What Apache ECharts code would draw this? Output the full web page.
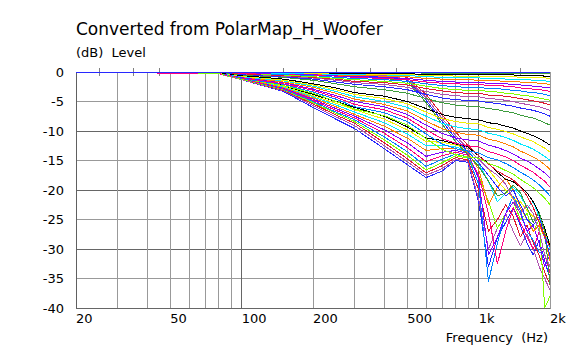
<!DOCTYPE html>
<html>
<head>
<meta charset="utf-8">
<script src="https://cdn.jsdelivr.net/npm/echarts@6/dist/echarts.min.js"></script>
<style>
  html, body { margin: 0; padding: 0; background: #fff; }
  #chart { width: 578px; height: 351px; }
  #chart svg path { shape-rendering: crispEdges; }
</style>
</head>
<body>
<div id="chart"></div>
<script>
// frequency points (Hz) shared by every curve
const freqs = [20, 80, 100, 150, 200, 250, 300, 400, 500, 600, 700, 800, 900, 1000,
  1100, 1200, 1300, 1400, 1500, 1600, 1700, 1800, 1900, 2000]

// front angles: gentle roll-off
const frontCurves = [
  [0, 0, 0, 0, 0, 0, 0, 0, 0, 0, 0, 0, 0, 0, 0, 0, 0, 0, 0, 0, 0, 0, 0, 0],
  [0, 0, 0, 0, 0, -0.1, -0.1, -0.1, -0.1, -0.2, -0.2, -0.2, -0.2, -0.2, -0.2, -0.2, -0.2, -0.2, -0.2, -0.3, -0.3, -0.3, -0.3, -0.3],
  [0, 0, 0, -0.1, -0.1, -0.2, -0.2, -0.2, -0.3, -0.4, -0.4, -0.4, -0.5, -0.5, -0.5, -0.5, -0.5, -0.5, -0.6, -0.6, -0.6, -0.6, -0.7, -0.7],
  [0, 0, -0.1, -0.1, -0.2, -0.2, -0.3, -0.4, -0.4, -0.6, -0.6, -0.7, -0.7, -0.7, -0.8, -0.8, -0.8, -0.8, -0.9, -0.9, -1, -1, -1, -1.1],
  [0, 0, -0.1, -0.2, -0.3, -0.4, -0.4, -0.5, -0.6, -0.8, -0.9, -1, -1, -1, -1.1, -1.1, -1.2, -1.2, -1.3, -1.3, -1.4, -1.5, -1.5, -1.6],
  [0, 0, -0.1, -0.2, -0.3, -0.5, -0.6, -0.7, -0.8, -1.1, -1.2, -1.3, -1.3, -1.4, -1.5, -1.5, -1.6, -1.6, -1.7, -1.8, -1.8, -1.9, -2, -2.1],
  [0, 0, -0.1, -0.3, -0.4, -0.6, -0.8, -0.9, -1.1, -1.4, -1.6, -1.7, -1.7, -1.8, -1.9, -1.9, -2, -2.1, -2.2, -2.3, -2.4, -2.5, -2.6, -2.7],
  [0, 0, -0.2, -0.3, -0.5, -0.7, -0.9, -1.1, -1.3, -1.7, -1.9, -2, -2.1, -2.1, -2.3, -2.3, -2.4, -2.5, -2.7, -2.8, -2.9, -3, -3.1, -3.3],
  [0, 0, -0.2, -0.4, -0.6, -0.9, -1.1, -1.3, -1.6, -2, -2.3, -2.5, -2.6, -2.6, -2.8, -2.8, -3, -3.1, -3.2, -3.4, -3.5, -3.6, -3.8, -4],
  [0, 0, -0.2, -0.5, -0.8, -1.1, -1.3, -1.6, -1.9, -2.4, -2.8, -3, -3.1, -3.1, -3.3, -3.4, -3.6, -3.7, -3.9, -4, -4.2, -4.4, -4.6, -4.8],
  [0, 0, -0.3, -0.6, -0.9, -1.2, -1.6, -1.8, -2.2, -2.8, -3.2, -3.5, -3.6, -3.6, -3.9, -4, -4.1, -4.3, -4.5, -4.7, -4.9, -5.1, -5.3, -5.6],
  [0, 0, -0.3, -0.7, -1, -1.4, -1.8, -2.1, -2.6, -3.3, -3.8, -4, -4.2, -4.2, -4.5, -4.6, -4.8, -5, -5.3, -5.5, -5.7, -5.9, -6.2, -6.5],
  [0, 0, -0.4, -0.8, -1.2, -1.7, -2.1, -2.5, -3, -3.8, -4.4, -4.7, -4.8, -4.9, -5.2, -5.3, -5.6, -5.8, -6.1, -6.3, -6.5, -6.8, -7.1, -7.5],
  [0, 0, -0.5, -0.9, -1.4, -2, -2.5, -3, -3.6, -4.5, -5.2, -5.6, -5.8, -5.9, -6.2, -6.4, -6.7, -6.9, -7.3, -7.6, -7.8, -8.2, -8.6, -9],
  [0, -0.1, -0.6, -1.2, -2, -2.7, -3.5, -4.1, -5, -6.2, -7.2, -7.7, -7.9, -8.1, -8.6, -8.8, -9.2, -9.5, -10, -10.4, -10.8, -11.3, -11.8, -12.4],
  [0, -0.1, -0.7, -1.4, -2.2, -3, -3.8, -4.5, -5.4, -6.8, -7.9, -8.4, -8.7, -8.8, -9.4, -9.7, -10.1, -10.5, -11, -11.4, -11.8, -12.4, -12.9, -13.6],
  [0, -0.1, -0.8, -1.5, -2.4, -3.3, -4.2, -5, -6, -7.5, -8.7, -9.3, -9.6, -9.8, -10.4, -10.7, -11.1, -11.6, -12.2, -12.6, -13.1, -13.7, -14.3, -15],
  [0, -0.1, -0.8, -1.7, -2.6, -3.6, -4.6, -5.5, -6.6, -8.3, -9.6, -10.2, -10.6, -10.7, -11.4, -11.7, -12.2, -12.7, -13.4, -13.9, -14.4, -15, -15.7, -16.5],
  [0, -0.1, -0.9, -1.8, -2.9, -4, -5, -5.9, -7.2, -9, -10.4, -11.2, -11.5, -11.7, -12.4, -12.8, -13.3, -13.9, -14.6, -15.1, -15.7, -16.4, -17.1, -18],
  [0, -0.1, -1, -2, -3.1, -4.3, -5.5, -6.4, -7.8, -9.8, -11.3, -12.1, -12.5, -12.7, -13.5, -13.9, -14.4, -15, -15.8, -16.4, -17, -17.8, -18.5, -19.5],
  [0, -0.1, -1.1, -2.1, -3.4, -4.6, -5.9, -6.9, -8.4, -10.5, -12.2, -13, -13.4, -13.7, -14.5, -14.9, -15.5, -16.2, -17, -17.6, -18.3, -19.1, -20, -21],
  [0, -0.2, -1.1, -2.3, -3.6, -5, -6.3, -7.4, -9, -11.3, -13.1, -14, -14.4, -14.6, -15.5, -16, -16.7, -17.3, -18.2, -18.9, -19.6, -20.5, -21.4, -22.5]
]

// curves that hold near 0 dB up to 400 Hz, then fall steeply
const bundleCurves = [
  [0, 0, 0, -0.1, -0.2, -0.3, -0.4, -0.4, -0.9, -3.8, -7.2, -10.2, -12.4, -14.2, -15.6, -16.8, -17.6, -18.3, -19.5, -21, -23, -25.5, -27.8, -29.7],
  [0, 0, -0.1, -0.2, -0.3, -0.4, -0.5, -0.6, -1.2, -4.3, -7.8, -10.8, -13, -14.8, -16.4, -17.5, -19, -21.5, -24, -22.5, -24, -27, -31, -33],
  [0, 0, -0.1, -0.2, -0.4, -0.5, -0.6, -0.8, -1.4, -4.8, -8.3, -11.3, -13.5, -15.4, -17.5, -19.5, -21, -20, -22.5, -25, -26, -24.5, -28, -31],
  [0, 0, -0.1, -0.3, -0.5, -0.6, -0.8, -1, -1.7, -5.2, -8.8, -11.8, -14, -16, -18.5, -21, -20.5, -19.2, -20.5, -23, -25.5, -23.8, -27, -36]
]

// rear angles: early roll-off, bump near 850 Hz, deep notches above 1 kHz
const rearCurves = [
  [0, -0.2, -0.8, -2.3, -3.8, -5, -6, -7.5, -9.3, -11.2, -11.6, -12.2, -12.7, -14.2, -15.5, -17, -18.2, -18.6, -19.5, -20.5, -22, -24, -26.5, -29.5],
  [0, -0.2, -0.9, -2.4, -4, -5.3, -6.4, -8, -9.8, -11.8, -11.9, -12.4, -13, -14.8, -16.5, -18.5, -20, -21.5, -22, -23.5, -24.5, -25, -27, -29],
  [0, -0.2, -0.9, -2.5, -4.2, -5.6, -6.8, -8.6, -10.5, -12.5, -12.4, -12.7, -13.3, -15.5, -18.5, -22, -20.5, -19.5, -21, -23, -22, -24.5, -27, -30],
  [0, -0.2, -1, -2.6, -4.4, -5.9, -7.2, -9.2, -11.2, -13.3, -13, -13, -13.6, -16.5, -22.5, -19.5, -18, -20, -23, -25, -27, -26, -28, -32],
  [0, -0.2, -1, -2.7, -4.6, -6.2, -7.5, -9.8, -12, -14.3, -13.6, -13.3, -13.8, -18, -31, -28, -24, -22, -24, -27, -26, -29, -33, -31],
  [0, -0.3, -1.1, -2.8, -4.8, -6.5, -7.8, -10.4, -12.8, -15.2, -14.2, -13.6, -14.1, -17.5, -24, -32.5, -27, -23, -25.5, -28, -30, -27, -31, -34],
  [0, -0.3, -1.1, -2.9, -5, -6.8, -8.1, -11, -13.5, -16, -14.8, -13.9, -14.4, -19, -35.5, -29, -24, -21, -23.5, -27, -28.5, -30.5, -31, -33],
  [0, -0.3, -1.2, -3, -5.2, -7, -8.4, -11.5, -14.1, -16.6, -15.4, -14.2, -14.6, -17.5, -22, -26.5, -24, -22, -25, -24, -27, -25, -40, -38],
  [0, -0.3, -1.2, -3.1, -5.4, -7.3, -8.7, -12, -14.7, -17.1, -15.9, -14.5, -14.9, -20, -27, -25, -22.5, -24.5, -28, -26, -29, -31, -34, -36],
  [0, -0.3, -1.3, -3.2, -5.7, -7.6, -9.1, -12.5, -15.2, -17.5, -16.4, -14.8, -15.1, -21.5, -30, -26.5, -24, -27, -29.5, -27.5, -30, -33, -35, -37],
  [0, -0.3, -1.3, -3.3, -6, -8, -9.6, -13, -15.7, -17.9, -16.8, -15, -15.3, -22, -33, -28, -25.5, -23, -26, -29, -31, -28.5, -32, -35]
]

const yTicks = [-40, -35, -30, -25, -20, -15, -10, -5, 0]
const xLabels = [20, 50, 100, 200, 500, 1000, 2000]
const xGrid = [20, 30, 40, 50, 60, 70, 80, 90, 100, 200, 300, 400, 500, 600, 700, 800, 900, 1000, 2000]
const xMinorTicks = [25, 35, 45, 150, 250, 350, 450, 1500]

const palette = ['#2828ff', '#3c9c3c', '#000000', '#f0f000', '#00e8ff', '#ff8000',
  '#8000ff', '#ff0080', '#0080ff', '#80ff00', '#e01830', '#b050b0']

const allCurves = frontCurves.concat(bundleCurves, rearCurves)
const font = 'DejaVu Sans, Verdana, sans-serif'

const series = allCurves.map((vals, i) => ({
  type: 'line',
  name: 'c' + i,
  showSymbol: false,
  silent: true,
  animation: false,
  z: 100 - i,
  lineStyle: { width: 1, color: palette[i % palette.length] },
  data: vals.map((v, j) => [freqs[j], v])
}))

const chart = echarts.init(document.getElementById('chart'), null, { renderer: 'svg' })
const logAxis = {
  type: 'log',
  logBase: 10,
  min: 20,
  max: 2000,
  gridIndex: 0
}
chart.setOption({
  backgroundColor: '#fff',
  animation: false,
  title: [{
    text: 'Converted from PolarMap_H_Woofer',
    left: 76,
    top: 20,
    padding: 0,
    textStyle: { fontFamily: font, fontSize: 17, fontWeight: 'normal', color: '#000' }
  }, {
    text: 'Frequency  (Hz)',
    right: 30,
    top: 331,
    padding: 0,
    textStyle: { fontFamily: font, fontSize: 13, fontWeight: 'normal', color: '#000' }
  }],
  grid: {
    left: 76,
    right: 28,
    top: 72,
    bottom: 43,
    show: true,
    borderColor: '#909090',
    borderWidth: 1
  },
  xAxis: [
    Object.assign({}, logAxis, {
      position: 'bottom',
      axisLine: { show: true, lineStyle: { color: '#606060' } },
      axisTick: { show: true, inside: true, length: 4, customValues: xMinorTicks, lineStyle: { color: '#808080' } },
      axisLabel: {
        customValues: xLabels,
        align: 'left',
        margin: 4,
        fontFamily: font,
        fontSize: 13,
        color: '#000',
        formatter: v => v >= 1000 ? (v / 1000) + 'k' : String(v)
      },
      splitLine: { show: false }
    }),
    Object.assign({}, logAxis, {
      position: 'top',
      axisLine: { show: false },
      axisTick: { show: true, inside: true, length: 4, customValues: xMinorTicks, lineStyle: { color: '#808080' } },
      axisLabel: { show: false },
      splitLine: { show: false }
    }),
    Object.assign({}, logAxis, {
      position: 'bottom',
      axisLine: { show: false },
      axisTick: { show: false, customValues: xGrid },
      axisLabel: { show: false },
      splitLine: {
        show: true,
        lineStyle: {
          width: 1,
          color: ['#999', '#999', '#999', '#999', '#999', '#999', '#999', '#999', '#666']
        }
      }
    })
  ],
  yAxis: {
    type: 'value',
    min: -40,
    max: 0,
    interval: 5,
    name: '(dB)  Level',
    nameLocation: 'end',
    nameGap: 20,
    nameTextStyle: { fontFamily: font, fontSize: 13, color: '#000', align: 'left', verticalAlign: 'middle' },
    axisLine: { show: true, lineStyle: { color: '#606060' } },
    axisTick: { show: false },
    axisLabel: {
      margin: 12,
      fontFamily: font,
      fontSize: 13,
      color: '#000',
      customValues: yTicks
    },
    splitLine: { show: true, lineStyle: { width: 1, color: ['#666', '#999'] } }
  },
  series: series
})
</script>
</body>
</html>
